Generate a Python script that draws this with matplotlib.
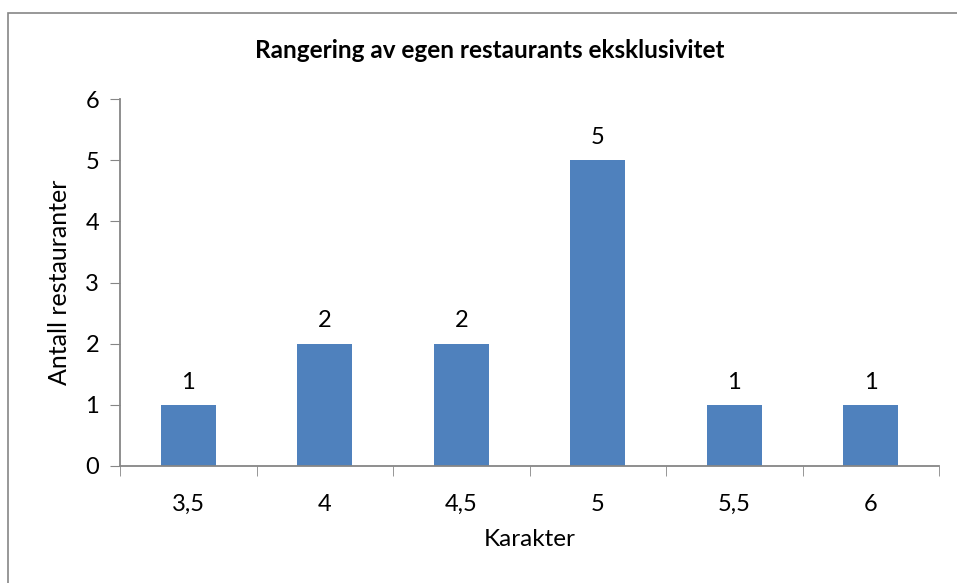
import matplotlib.pyplot as plt
from matplotlib.patches import Rectangle
import numpy as np

plt.rcParams['font.family'] = ['Lato', 'DejaVu Sans']

# data
karakter = ['3,5', '4', '4,5', '5', '5,5', '6']
antall = [1, 2, 2, 5, 1, 1]

fig = plt.figure(figsize=(9.57, 5.83), dpi=100)
ax = fig.add_axes([120/957, 1-466/583, (939-120)/957, (466-99)/583])

x = np.arange(len(karakter))
bars = ax.bar(x, antall, width=0.4, color='#4F81BD', zorder=2)
for b, v in zip(bars, antall):
    ax.text(b.get_x() + b.get_width()/2, v + 0.2, str(v), ha='center', va='bottom', fontsize=17)

ax.set_xlim(-0.5, len(karakter) - 0.5)
ax.set_ylim(0, 6)
ax.set_yticks(range(7))
ax.set_xticks(x)
ax.set_xticklabels(karakter, fontsize=17)
ax.set_xticks(np.arange(-0.5, len(karakter)), minor=True)
ax.tick_params(axis='x', which='major', length=0, pad=20)
ax.tick_params(axis='x', which='minor', length=7, color='#868686', direction='out')
ax.tick_params(axis='y', length=7, color='#868686', labelsize=17, pad=8)

for s in ['top', 'right']:
    ax.spines[s].set_visible(False)
for s in ['left', 'bottom']:
    ax.spines[s].set_color('#868686')
    ax.spines[s].set_linewidth(1.3)

ax.set_xlabel('Karakter', fontsize=17.5, labelpad=10)
ax.set_ylabel('Antall restauranter', fontsize=18, labelpad=10)
fig.text(490/957, 1-50/583, 'Rangering av egen restaurants eksklusivitet',
         ha='center', va='center', fontsize=17.5, fontweight='bold')

# chart border
fig.patches.append(Rectangle((8/957, -0.05), 1.1, 1-13/583+0.05, transform=fig.transFigure,
                             fill=False, edgecolor='#868686', linewidth=1.2))

fig.savefig('out.png', dpi=100)
